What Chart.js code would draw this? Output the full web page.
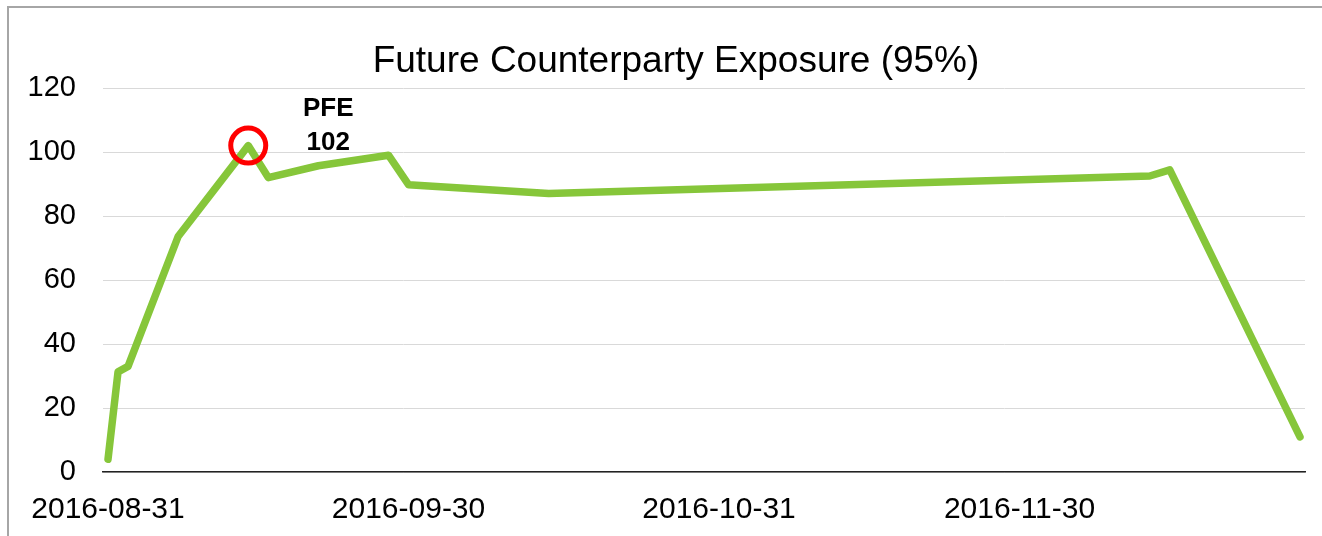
<!DOCTYPE html>
<html>
<head>
<meta charset="utf-8">
<script src="https://cdn.jsdelivr.net/npm/chart.js@4.4.1/dist/chart.umd.min.js"></script>
<style>
  html, body { margin: 0; padding: 0; background: #fff; overflow: hidden; }
  #frame { position: absolute; left: 7px; top: 6px; width: 1400px; height: 600px; border: 2px solid #a6a6a6; }
  #wrap { position: absolute; left: 0; top: 0; width: 1352px; height: 536px; }
</style>
</head>
<body>
<div id="frame"></div>
<div id="wrap"><canvas id="chart"></canvas></div>
<script>
// --- data ---
const dates = ["2016-08-31", "2016-09-01", "2016-09-02", "2016-09-07", "2016-09-14", "2016-09-16",
               "2016-09-21", "2016-09-28", "2016-09-30", "2016-10-14", "2016-12-13", "2016-12-15", "2016-12-28"];
const exposure = [4, 31.3, 33, 73.6, 102, 92, 95.7, 99, 89.8, 87, 92.5, 94.4, 11];
const tickDates = ["2016-08-31", "2016-09-30", "2016-10-31", "2016-11-30"];
const yTicks = [0, 20, 40, 60, 80, 100, 120];

const FONT = "'Liberation Sans', Arial, sans-serif";
const DAY = 86400000;
const start = Date.UTC(2016, 7, 31);
const toDay = s => { const [y, m, d] = s.split("-").map(Number); return (Date.UTC(y, m - 1, d) - start) / DAY; };

const points = dates.map((d, i) => ({ x: toDay(d), y: exposure[i] }));
const tickDays = tickDates.map(toDay);
const peakIdx = exposure.indexOf(Math.max(...exposure));

// label next to the peak point
const pfeLabel = {
  id: "pfeLabel",
  afterDatasetsDraw(chart) {
    const pt = chart.getDatasetMeta(0).data[peakIdx];
    const ctx = chart.ctx;
    ctx.save();
    ctx.fillStyle = "#000";
    ctx.font = "bold 26px " + FONT;
    ctx.textAlign = "center";
    ctx.textBaseline = "middle";
    ctx.fillText("PFE", pt.x + 80, pt.y - 37);
    ctx.fillText(String(Math.round(exposure[peakIdx])), pt.x + 80, pt.y - 3);
    ctx.restore();
  }
};

new Chart(document.getElementById("chart"), {
  type: "line",
  data: {
    datasets: [{
      data: points,
      borderColor: "#86c63a",
      borderWidth: 7.5,
      borderCapStyle: "round",
      borderJoinStyle: "round",
      tension: 0,
      fill: false,
      pointRadius: points.map((_, i) => i === peakIdx ? 17.5 : 0),
      pointHoverRadius: points.map((_, i) => i === peakIdx ? 17.5 : 0),
      pointBorderColor: "#ff0000",
      pointBorderWidth: 5,
      pointBackgroundColor: "rgba(0,0,0,0)"
    }]
  },
  options: {
    responsive: true,
    maintainAspectRatio: false,
    animation: false,
    layout: { padding: 0 },
    plugins: {
      legend: { display: false },
      tooltip: { enabled: false },
      title: {
        display: true,
        text: "Future Counterparty Exposure (95%)",
        color: "#000",
        font: { family: FONT, size: 37, weight: "normal", lineHeight: 1.2 },
        padding: { top: 40, bottom: 3.6 }
      }
    },
    scales: {
      x: {
        type: "linear",
        min: -0.5,
        max: 119.5,
        afterBuildTicks: s => { s.ticks = tickDays.map(v => ({ value: v })); },
        afterFit: s => { s.height = 64; s.paddingRight = 47; },
        ticks: {
          color: "#000",
          font: { family: FONT, size: 30 },
          padding: 12,
          maxRotation: 0,
          autoSkip: false,
          callback: v => tickDates[tickDays.indexOf(v)]
        },
        grid: { display: false },
        border: { display: true, color: "#222", width: 1.5 }
      },
      y: {
        min: 0,
        max: 120,
        afterBuildTicks: s => { s.ticks = yTicks.map(v => ({ value: v })); },
        afterFit: s => { s.width = 103; },
        ticks: {
          color: "#000",
          font: { family: FONT, size: 29 },
          padding: 27
        },
        grid: { color: "#d9d9d9", lineWidth: 1, drawTicks: false },
        border: { display: false }
      }
    }
  },
  plugins: [pfeLabel]
});
</script>
</body>
</html>
